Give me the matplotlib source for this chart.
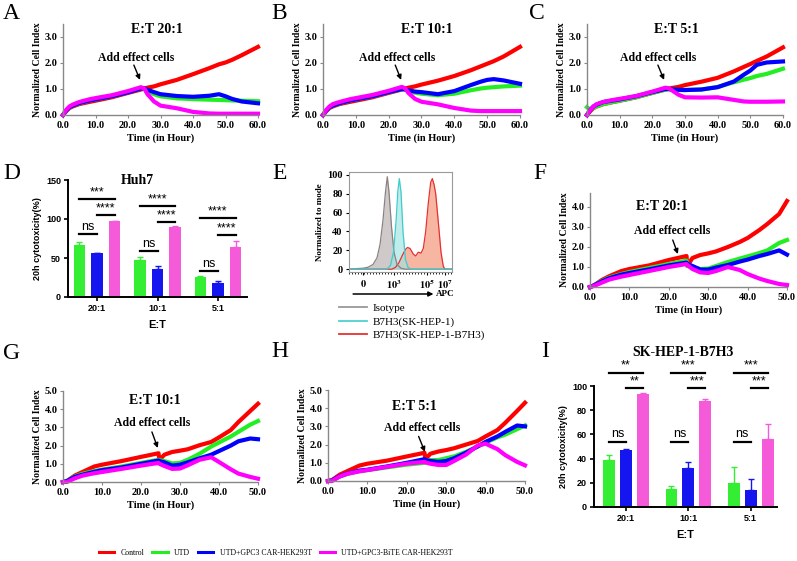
import numpy as np
import matplotlib
matplotlib.use("Agg")
import matplotlib.pyplot as plt
from matplotlib.lines import Line2D
from matplotlib.ticker import MultipleLocator

W, H = 797, 561
SERIF = "Liberation Serif"; SANS = "Liberation Sans"
plt.rcParams.update({"font.family": SERIF, "mathtext.fontset": "stix", "axes.linewidth": 1.0})

# ---------------- data ----------------
SERIES = ["Control", "UTD", "UTD+GPC3 CAR-HEK293T", "UTD+GPC3-BiTE CAR-HEK293T"]
CURVE_COLORS = ["#ff0000", "#22ee22", "#0000ff", "#ff00ff"]

# Huh7 real-time cell index (0-60 h)
T60 = [0, 1, 2, 3, 5, 8, 10, 15, 20, 24, 25, 26, 28, 30, 35, 40, 45, 48, 50, 52, 55, 60]
A_red = [0, .15, .27, .33, .42, .50, .55, .68, .85, .98, 1.02, 1.05, 1.10, 1.18, 1.35, 1.57, 1.80, 1.95, 2.02, 2.12, 2.30, 2.62]
A_utd = [0, .17, .30, .36, .45, .55, .60, .72, .88, 1.02, 1.0, .93, .80, .72, .64, .61, .59, .58, .57, .56, .55, .53]
A_car = [0, .17, .30, .36, .46, .55, .60, .72, .87, 1.02, 1.02, .97, .88, .80, .73, .70, .74, .80, .72, .62, .52, .45]
A_bite = [0, .20, .33, .40, .50, .60, .65, .76, .92, 1.07, 1.02, .80, .52, .36, .26, .12, .06, .05, .05, .05, .05, .05]

B_red = [0, .15, .27, .33, .42, .50, .55, .68, .85, .98, 1.02, 1.05, 1.10, 1.17, 1.32, 1.50, 1.72, 1.87, 1.97, 2.07, 2.25, 2.62]
B_utd = [0, .17, .30, .36, .45, .55, .60, .72, .88, 1.0, .98, .93, .86, .82, .76, .82, .95, 1.02, 1.05, 1.07, 1.10, 1.13]
B_car = [0, .17, .30, .36, .45, .55, .60, .72, .88, 1.0, .98, .95, .90, .88, .80, .92, 1.15, 1.28, 1.35, 1.38, 1.33, 1.20]
B_bite = [0, .20, .33, .42, .50, .60, .65, .77, .93, 1.08, 1.03, .85, .62, .51, .41, .27, .17, .15, .15, .15, .15, .15]

C_red = [0, .15, .27, .33, .42, .50, .55, .68, .85, .98, 1.01, 1.04, 1.08, 1.15, 1.28, 1.43, 1.68, 1.85, 1.96, 2.08, 2.25, 2.60]
C_utd = [.30, .20, .28, .33, .42, .50, .55, .68, .85, .98, .98, .97, .96, .96, .98, 1.08, 1.26, 1.36, 1.42, 1.50, 1.58, 1.78]
C_car = [0, .20, .33, .40, .50, .56, .60, .72, .88, 1.0, 1.0, .99, .97, .96, .98, 1.07, 1.29, 1.55, 1.71, 1.93, 2.02, 2.06]
C_bite = [0, .20, .33, .42, .50, .58, .62, .73, .90, 1.05, 1.03, .95, .78, .68, .67, .68, .58, .52, .51, .51, .51, .52]

# SK-HEP-1-B7H3 real-time cell index (0-50 h)
T50 = [0, 1, 3, 5, 8, 10, 15, 20, 24.5, 24.7, 26, 28, 30, 32, 35, 38, 40, 43, 45, 48, 50]
F_red = [0, .08, .35, .55, .80, .90, 1.08, 1.35, 1.55, 1.05, 1.45, 1.60, 1.68, 1.78, 2.0, 2.25, 2.45, 2.85, 3.15, 3.65, 4.30]
F_utd = [0, .08, .30, .48, .65, .75, .95, 1.15, 1.32, 1.05, 1.0, .90, .92, 1.05, 1.25, 1.42, 1.53, 1.70, 1.83, 2.20, 2.35]
F_car = [0, .08, .28, .45, .62, .70, .88, 1.08, 1.22, 1.15, 1.05, .87, .87, .97, 1.10, 1.27, 1.37, 1.55, 1.65, 1.83, 1.62]
F_bite = [0, .05, .22, .38, .52, .60, .80, 1.0, 1.15, 1.10, .90, .73, .70, .80, 1.0, .85, .65, .42, .30, .15, .10]

G_red = [0, .05, .35, .55, .85, .95, 1.15, 1.38, 1.58, 1.20, 1.50, 1.65, 1.72, 1.80, 2.02, 2.20, 2.45, 2.85, 3.30, 3.90, 4.30]
G_utd = [0, .05, .30, .45, .60, .68, .85, 1.05, 1.22, 1.20, 1.15, 1.02, 1.05, 1.22, 1.55, 1.95, 2.17, 2.50, 2.76, 3.15, 3.35]
G_car = [0, .05, .28, .40, .56, .65, .80, 1.0, 1.18, 1.15, 1.08, .90, .95, 1.08, 1.30, 1.50, 1.70, 2.00, 2.24, 2.39, 2.35]
G_bite = [0, 0, .20, .35, .48, .55, .72, .90, 1.05, 1.0, .88, .72, .74, .92, 1.22, 1.36, 1.10, .70, .46, .28, .18]

H_red = [0, .05, .35, .55, .85, .95, 1.12, 1.35, 1.55, 1.20, 1.50, 1.62, 1.70, 1.80, 2.0, 2.20, 2.45, 2.80, 3.20, 3.85, 4.30]
H_utd = [0, .03, .25, .40, .55, .60, .75, .90, 1.0, 1.10, 1.15, 1.15, 1.25, 1.35, 1.60, 1.90, 2.10, 2.40, 2.55, 2.85, 3.05]
H_car = [0, .03, .27, .42, .57, .62, .80, 1.0, 1.20, 1.15, 1.10, 1.05, 1.10, 1.25, 1.55, 1.90, 2.15, 2.45, 2.70, 3.05, 3.0]
H_bite = [0, 0, .25, .40, .53, .60, .78, .95, 1.05, 1.02, .95, .88, .88, 1.10, 1.45, 1.95, 2.05, 1.75, 1.42, 1.05, .86]

# 20h cytotoxicity bars (UTD, GPC3 CAR, GPC3-BiTE CAR) at E:T 20:1, 10:1, 5:1
RATIOS = ["20:1", "10:1", "5:1"]
BAR_COLORS = ["#33ee33", "#1515f0", "#f55ad8"]
D_mean = [[67, 48, 26], [56, 36, 18], [97, 90, 64]]
D_err = [[4, 3, 1], [1, 4, 3], [1, 1, 8]]
I_mean = [[39, 15, 20], [47, 32, 14], [93, 88, 56]]
I_err = [[4, 2, 13], [1, 5, 9], [1, 1, 13]]
# (group, bar_i, bar_j, y, label)
D_sig = [(0, 0, 2, 126, "***"), (0, 1, 2, 105, "****"), (0, 0, 1, 81, "ns"),
         (1, 0, 2, 117, "****"), (1, 1, 2, 96, "****"), (1, 0, 1, 59, "ns"),
         (2, 0, 2, 101, "****"), (2, 1, 2, 79, "****"), (2, 0, 1, 33, "ns")]
I_sig = [(0, 0, 2, 111, "**"), (0, 1, 2, 98, "**"), (0, 0, 1, 54, "ns"),
         (1, 0, 2, 111, "***"), (1, 1, 2, 98, "***"), (1, 0, 1, 54, "ns"),
         (2, 0, 2, 111, "***"), (2, 1, 2, 98, "***"), (2, 0, 1, 54, "ns")]

# flow cytometry histogram (display channel, % of mode)
ISO_x = [0, 6, 14, 19, 24, 28, 31, 34, 36.5, 38.3, 40, 42.5, 45, 48, 52, 56, 103]
ISO_y = [0, .5, 1, 2, 5, 12, 26, 52, 82, 98, 82, 45, 18, 5, 1, 0, 0]
NEG_x = [0, 38, 41.5, 44.5, 47, 48.8, 50.3, 52, 54, 56.5, 59, 62, 103]
NEG_y = [0, 0, 4, 18, 50, 82, 96, 82, 40, 10, 2, 0, 0]
POS_x = [0, 43, 46.5, 50, 53.5, 56.5, 58.5, 61, 64.3, 66.7, 69.3, 72, 74.3, 76.7, 79.3, 81.7, 83.3, 85, 86.7, 89.3, 92, 94.3, 96, 103]
POS_y = [0, 0, 2, 7, 15, 21, 23, 22, 16, 14, 18, 17, 22, 40, 70, 92, 96, 90, 80, 50, 18, 3, 0, 0]
APC_ticks = [14, 45, 78, 96]
APC_labels = ["$\\mathbf{0}$", "$\\mathbf{10^{3}}$", "$\\mathbf{10^{5}}$", "$\\mathbf{10^{7}}$"]

fig = plt.figure(figsize=(W / 100, H / 100), dpi=100)

def rect(x0, y0, x1, y1):
    return [x0 / W, 1 - y1 / H, (x1 - x0) / W, (y1 - y0) / H]

def curve_panel(r, t, ys, xmax, ymax, ytop, title, tpos, lpos, tail, head):
    ax = fig.add_axes(r)
    for y, c in zip(ys, CURVE_COLORS):
        ax.plot(t, y, color=c, lw=3, solid_joinstyle="round", clip_on=False)
    ax.set_xlim(0, xmax); ax.set_ylim(0, ymax)
    xt = np.arange(0, xmax + 1, 10)
    ax.set_xticks(xt); ax.set_xticklabels([f"{v:.1f}" for v in xt])
    yt = np.arange(0, ytop + 0.1, 1.0)
    ax.set_yticks(yt); ax.set_yticklabels([f"{v:.1f}" for v in yt])
    for s in ["top", "right"]: ax.spines[s].set_visible(False)
    ax.spines["left"].set_color("#888"); ax.spines["bottom"].set_color("#888")
    ax.tick_params(length=2, width=0.8, pad=2, labelsize=7.5, color="#888")
    for lb in ax.get_xticklabels() + ax.get_yticklabels(): lb.set_fontweight("bold")
    ax.set_ylabel("Normalized Cell Index", fontsize=7, fontweight="bold", labelpad=2)
    ax.set_xlabel("Time (in Hour)", fontsize=7.5, fontweight="bold", labelpad=3)
    ax.text(*tpos, title, ha="center", va="center", fontsize=10, fontweight="bold")
    ax.text(*lpos, "Add effect cells", ha="center", va="center", fontsize=8.5, fontweight="bold")
    ax.annotate("", xy=head, xytext=tail,
                arrowprops=dict(arrowstyle="-|>", lw=1, color="k", mutation_scale=7, shrinkA=0, shrinkB=0))
    return ax

def bar_panel(r, means, errs, sig, xlim, ylim, yticks, off, title, tpos):
    ax = fig.add_axes(r)
    x = np.arange(3)
    for k, (m, e, c) in enumerate(zip(means, errs, BAR_COLORS)):
        ax.bar(x + off[k], m, 0.19, color=c, yerr=[np.zeros(3), e],
               error_kw=dict(ecolor=c, capsize=2, elinewidth=1, capthick=1))
    for g, i, j, y, lab in sig:
        ax.plot([g + off[i], g + off[j]], [y, y], color="k", lw=1.6, clip_on=False)
        ax.text((2 * g + off[i] + off[j]) / 2, y + 1, lab, ha="center", va="bottom",
                fontsize=9, family=SANS, clip_on=False)
    ax.set_xlim(*xlim); ax.set_ylim(*ylim)
    ax.set_xticks(x); ax.set_xticklabels(RATIOS)
    ax.set_yticks(yticks)
    for s in ["top", "right"]: ax.spines[s].set_visible(False)
    for s in ["left", "bottom"]: ax.spines[s].set_linewidth(1.4)
    ax.tick_params(length=3, width=1.2, pad=2, labelsize=6.5)
    for lb in ax.get_xticklabels() + ax.get_yticklabels():
        lb.set_fontweight("bold"); lb.set_family(SANS)
    ax.set_ylabel("20h cytotoxicity(%)", fontsize=6.5, fontweight="bold", family=SANS, labelpad=3)
    ax.set_xlabel("E:T", fontsize=8, fontweight="bold", family=SANS, labelpad=5)
    ax.text(*tpos, title, ha="center", va="center", fontsize=10, fontweight="bold", clip_on=False)
    return ax

# ---------- A, B, C ----------
curve_panel(rect(63, 24, 258, 115), T60, [A_red, A_utd, A_car, A_bite], 60, 3.5, 3,
            "E:T 20:1", (29, 3.3), (22.5, 2.2), (21.8, 1.92), (23.7, 1.35))
curve_panel(rect(323, 24, 520, 115), T60, [B_red, B_utd, B_car, B_bite], 60, 3.5, 3,
            "E:T 10:1", (31.5, 3.3), (22.5, 2.2), (22.0, 1.92), (23.8, 1.35))
curve_panel(rect(587, 24, 783, 115), T60, [C_red, C_utd, C_car, C_bite], 60, 3.5, 3,
            "E:T 5:1", (27.5, 3.3), (21.7, 2.2), (21.7, 1.92), (23.6, 1.35))

# ---------- F, G, H ----------
curve_panel(rect(590, 193, 787, 287), T50, [F_red, F_utd, F_car, F_bite], 50, 4.7, 4,
            "E:T 20:1", (18.3, 4.0), (20.8, 2.8), (21.0, 2.35), (22.3, 1.65))
curve_panel(rect(63, 391, 258, 482), T50, [G_red, G_utd, G_car, G_bite], 50, 5.0, 5,
            "E:T 10:1", (23.6, 4.5), (22.8, 3.25), (22.8, 2.75), (24.3, 1.87))
curve_panel(rect(328, 390, 525, 481), T50, [H_red, H_utd, H_car, H_bite], 50, 5.0, 5,
            "E:T 5:1", (22.0, 4.07), (23.9, 2.9), (23.0, 2.45), (24.6, 1.6))

# ---------- D, I ----------
bar_panel(rect(68, 180, 247, 297), D_mean, D_err, D_sig, (-0.48, 2.48), (0, 150), [0, 50, 100, 150],
          [-0.29, 0, 0.29], "Huh7", (0.66, 149))
bar_panel(rect(594, 386, 777, 507), I_mean, I_err, I_sig, (-0.51, 2.42), (0, 100), [0, 20, 40, 60, 80, 100],
          [-0.27, 0, 0.27], "SK-HEP-1-B7H3", (0.91, 128))

# ---------- E ----------
ax = fig.add_axes(rect(349, 172, 452, 272))
for xs, ys, fc, ec in [(POS_x, POS_y, "#f39070", "#e83030"), (ISO_x, ISO_y, "#b8adad", "#8a8282"),
                       (NEG_x, NEG_y, "#9fe3e3", "#40cccc")]:
    ax.fill_between(xs, ys, color=fc, alpha=0.65, lw=0)
    ax.plot(xs, ys, color=ec, lw=0.9)
ax.set_xlim(0, 103); ax.set_ylim(-3, 103)
ax.set_xticks(APC_ticks); ax.set_xticklabels(APC_labels)
ax.xaxis.set_minor_locator(MultipleLocator(3))
ax.set_yticks(range(0, 101, 20))
ax.tick_params(length=2.5, width=0.8, pad=2, labelsize=7.5)
ax.tick_params(axis="x", which="minor", length=1.5, width=0.6)
for lb in ax.get_yticklabels(): lb.set_fontweight("bold")
for s in ax.spines.values(): s.set_color("#999"); s.set_linewidth(0.8)
ax.set_ylabel("Normalized to mode", fontsize=6.5, fontweight="bold", labelpad=2)
ax.annotate("", xy=(0.82, -0.22), xytext=(0.04, -0.22), xycoords="axes fraction",
            arrowprops=dict(arrowstyle="-|>", lw=1.1, color="k", mutation_scale=7, shrinkA=0, shrinkB=0))
ax.text(0.93, -0.22, "APC", transform=ax.transAxes, ha="center", va="center", fontsize=6.5, fontweight="bold")
fig.legend([Line2D([], [], color=c, lw=1.3) for c in ["#999", "#50d0d0", "#e83030"]],
           ["Isotype", "B7H3(SK-HEP-1)", "B7H3(SK-HEP-1-B7H3)"],
           loc="upper left", bbox_to_anchor=(333 / W, 1 - 298 / H), frameon=False,
           fontsize=8, handlelength=2.6, handletextpad=0.5, labelspacing=0.3, borderpad=0)

# ---------- panel letters ----------
for lt, x, y in [("A", 3, 3), ("B", 271, 3), ("C", 529, 3), ("D", 3, 163), ("E", 272, 163),
                 ("F", 533, 163), ("G", 3, 343), ("H", 271, 341), ("I", 541, 341)]:
    fig.text(x / W, 1 - y / H, lt, ha="left", va="top", fontsize=17)

# ---------- shared legend ----------
fig.legend([Line2D([], [], color=c, lw=2.2) for c in CURVE_COLORS], SERIES,
           loc="center left", bbox_to_anchor=(95 / W, 1 - 553 / H), ncol=4, frameon=False,
           fontsize=5.6, handlelength=2.0, handletextpad=0.8, columnspacing=1.0, borderpad=0)

fig.savefig("out.png", dpi=100)
